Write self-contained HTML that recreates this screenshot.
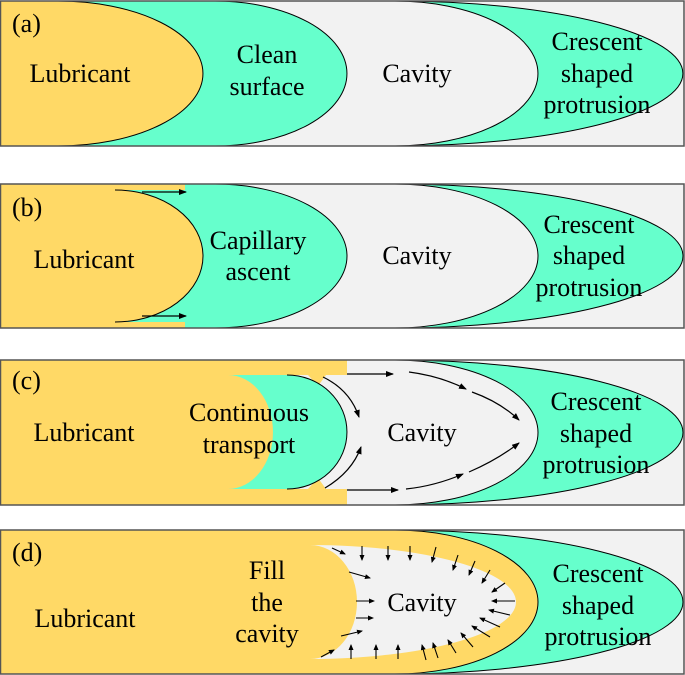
<!DOCTYPE html>
<html><head><meta charset="utf-8"><style>
html,body{margin:0;padding:0;background:#fff;}
svg{display:block;}
</style></head><body>
<svg width="685" height="675" viewBox="0 0 685 675" xmlns="http://www.w3.org/2000/svg">
<defs>
<marker id="ah" markerWidth="8" markerHeight="6" refX="7" refY="3" orient="auto" markerUnits="userSpaceOnUse">
<path d="M0,0 L8,3 L0,6 z" fill="#000"/></marker>
<marker id="as" markerWidth="6" markerHeight="5" refX="5" refY="2.5" orient="auto" markerUnits="userSpaceOnUse">
<path d="M0,0 L6,2.5 L0,5 z" fill="#000"/></marker>
</defs>

<!-- Panel a -->
<rect x="0" y="1" width="684" height="145" fill="#f2f2f2"/>
<path d="M0,1 H395 A288,72.5 0 0 1 395,146 H0 Z" fill="#66ffcc"/>
<path d="M395,1 A288,72.5 0 0 1 395,146" fill="none" stroke="#000"/>
<path d="M0,1 H395 A143,72.5 0 0 1 395,146 H0 Z" fill="#f2f2f2"/>
<path d="M395,1 A143,72.5 0 0 1 395,146" fill="none" stroke="#000"/>
<path d="M0,1 H215 A132,72.5 0 0 1 215,146 H0 Z" fill="#66ffcc"/>
<path d="M215,1 A132,72.5 0 0 1 215,146" fill="none" stroke="#000"/>
<path d="M0,1 H58 A145,72.5 0 0 1 58,146 H0 Z" fill="#ffd966"/>
<path d="M58,1 A145,72.5 0 0 1 58,146" fill="none" stroke="#000"/>
<rect x="0.5" y="1" width="683.5" height="145" fill="none" stroke="#555" stroke-width="1.5"/>

<!-- Panel b -->
<rect x="0" y="184" width="684" height="144" fill="#f2f2f2"/>
<path d="M0,184 H395 A288,72 0 0 1 395,328 H0 Z" fill="#66ffcc"/>
<path d="M395,184 A288,72 0 0 1 395,328" fill="none" stroke="#000"/>
<path d="M0,184 H395 A143,72 0 0 1 395,328 H0 Z" fill="#f2f2f2"/>
<path d="M395,184 A143,72 0 0 1 395,328" fill="none" stroke="#000"/>
<rect x="0" y="184" width="185" height="144" fill="#ffd966"/>
<path d="M185,184 H215 A132,72 0 0 1 215,328 H185 Z" fill="#66ffcc"/>
<path d="M215,184 A132,72 0 0 1 215,328" fill="none" stroke="#000"/>
<rect x="115" y="190" width="71" height="132" fill="#66ffcc"/>
<path d="M0,190 H115 A88,66 0 0 1 115,322 H0 Z" fill="#ffd966"/>
<path d="M115,190 A88,66 0 0 1 115,322" fill="none" stroke="#000"/>
<rect x="0.5" y="184" width="683.5" height="144" fill="none" stroke="#555" stroke-width="1.5"/>
<line x1="142" y1="192" x2="186" y2="192" stroke="#000" stroke-width="1.3" marker-end="url(#ah)"/>
<line x1="142" y1="316" x2="186" y2="316" stroke="#000" stroke-width="1.3" marker-end="url(#ah)"/>

<!-- Panel c -->
<rect x="0" y="360" width="684" height="145" fill="#f2f2f2"/>
<path d="M0,360 H395 A288,72.5 0 0 1 395,505 H0 Z" fill="#66ffcc"/>
<path d="M395,360 A288,72.5 0 0 1 395,505" fill="none" stroke="#000"/>
<path d="M0,360 H395 A143,72.5 0 0 1 395,505 H0 Z" fill="#f2f2f2"/>
<path d="M395,360 A143,72.5 0 0 1 395,505" fill="none" stroke="#000"/>
<rect x="0" y="360" width="347" height="145" fill="#ffd966"/>
<rect x="287" y="375" width="60" height="114" fill="#f2f2f2"/>
<polygon points="308,375 326,375 318,386" fill="#ffd966"/>
<polygon points="308,489 326,489 318,478" fill="#ffd966"/>
<path d="M228,375 H287 A60,57 0 0 1 287,489 H228 Z" fill="#66ffcc"/>
<path d="M287,375 A60,57 0 0 1 287,489" fill="none" stroke="#000"/>
<path d="M228,375 A45,57 0 0 1 228,489 Z" fill="#ffd966"/>
<rect x="0.5" y="360" width="683.5" height="145" fill="none" stroke="#555" stroke-width="1.5"/>
<g fill="none" stroke="#000" stroke-width="1.2">
<line x1="347" y1="374" x2="393" y2="374" marker-end="url(#ah)"/>
<line x1="347" y1="490" x2="398" y2="490" marker-end="url(#ah)"/>
<path d="M409,372 Q440,376 466,389" marker-end="url(#ah)"/>
<path d="M472,392 Q500,402 519,420" marker-end="url(#ah)"/>
<path d="M406,489 Q435,486 463,474" marker-end="url(#ah)"/>
<path d="M469,472 Q497,460 519,443" marker-end="url(#ah)"/>
<path d="M323,377 Q350,390 359,417" marker-end="url(#ah)"/>
<path d="M325,488 Q352,472 361,447" marker-end="url(#ah)"/>
</g>

<!-- Panel d -->
<rect x="0" y="530" width="684" height="144" fill="#f2f2f2"/>
<path d="M0,530 H395 A288,72 0 0 1 395,674 H0 Z" fill="#66ffcc"/>
<path d="M395,530 A288,72 0 0 1 395,674" fill="none" stroke="#000"/>
<path d="M0,530 H395 A143,72 0 0 1 395,674 H0 Z" fill="#ffd966"/>
<path d="M395,530 A143,72 0 0 1 395,674" fill="none" stroke="#000"/>
<path d="M310,545 A206,57 0 0 1 310,659 Z" fill="#f2f2f2"/>
<path d="M310,545 A47,57 0 0 1 310,659 Z" fill="#ffd966"/>
<rect x="0.5" y="530" width="683.5" height="144" fill="none" stroke="#555" stroke-width="1.5"/>
<g stroke="#000" stroke-width="1.1" fill="none">
<line x1="332" y1="548" x2="345" y2="554" marker-end="url(#as)"/>
<line x1="362" y1="546" x2="362" y2="560" marker-end="url(#as)"/>
<line x1="388" y1="546" x2="388" y2="560" marker-end="url(#as)"/>
<line x1="410" y1="546" x2="410" y2="560" marker-end="url(#as)"/>
<line x1="436" y1="547" x2="432" y2="562" marker-end="url(#as)"/>
<line x1="458" y1="555" x2="453" y2="570" marker-end="url(#as)"/>
<line x1="475" y1="561" x2="469" y2="575" marker-end="url(#as)"/>
<line x1="490" y1="570" x2="482" y2="583" marker-end="url(#as)"/>
<line x1="505" y1="583" x2="492" y2="592" marker-end="url(#as)"/>
<line x1="515" y1="601" x2="492" y2="601" marker-end="url(#as)"/>
<line x1="510" y1="615" x2="489" y2="610" marker-end="url(#as)"/>
<line x1="500" y1="627" x2="480" y2="618" marker-end="url(#as)"/>
<line x1="490" y1="637" x2="472" y2="626" marker-end="url(#as)"/>
<line x1="473" y1="647" x2="461" y2="633" marker-end="url(#as)"/>
<line x1="456" y1="653" x2="448" y2="640" marker-end="url(#as)"/>
<line x1="438" y1="658" x2="433" y2="643" marker-end="url(#as)"/>
<line x1="426" y1="660" x2="422" y2="645" marker-end="url(#as)"/>
<line x1="398" y1="659" x2="398" y2="645" marker-end="url(#as)"/>
<line x1="376" y1="659" x2="376" y2="645" marker-end="url(#as)"/>
<line x1="351" y1="659" x2="351" y2="645" marker-end="url(#as)"/>
<line x1="321" y1="657" x2="334" y2="650" marker-end="url(#as)"/>
<line x1="341" y1="636" x2="362" y2="631" marker-end="url(#as)"/>
<line x1="356" y1="618" x2="373" y2="618" marker-end="url(#as)"/>
<line x1="356" y1="601" x2="374" y2="601" marker-end="url(#as)"/>
<line x1="349" y1="572" x2="370" y2="578" marker-end="url(#as)"/>
</g>

<g font-family="Liberation Serif, DejaVu Serif, serif" font-size="26" fill="#000" text-anchor="middle">
<text x="12" y="32" text-anchor="start">(a)</text>
<text x="80" y="82">Lubricant</text>
<text x="267" y="63">Clean</text>
<text x="267" y="95">surface</text>
<text x="417" y="82">Cavity</text>
<text x="597" y="50">Crescent</text>
<text x="597" y="82">shaped</text>
<text x="597" y="113">protrusion</text>

<text x="12" y="216" text-anchor="start">(b)</text>
<text x="84" y="268">Lubricant</text>
<text x="258" y="249">Capillary</text>
<text x="258" y="280">ascent</text>
<text x="417" y="264">Cavity</text>
<text x="589" y="233">Crescent</text>
<text x="589" y="264">shaped</text>
<text x="589" y="296">protrusion</text>

<text x="12" y="389" text-anchor="start">(c)</text>
<text x="84" y="441">Lubricant</text>
<text x="249" y="421">Continuous</text>
<text x="249" y="453">transport</text>
<text x="422" y="441">Cavity</text>
<text x="596" y="410">Crescent</text>
<text x="596" y="442">shaped</text>
<text x="596" y="473">protrusion</text>

<text x="12" y="561" text-anchor="start">(d)</text>
<text x="85" y="627">Lubricant</text>
<text x="267" y="579">Fill</text>
<text x="267" y="611">the</text>
<text x="267" y="642">cavity</text>
<text x="422" y="611">Cavity</text>
<text x="598" y="582">Crescent</text>
<text x="598" y="614">shaped</text>
<text x="598" y="645">protrusion</text>
</g>
</svg>
</body></html>
